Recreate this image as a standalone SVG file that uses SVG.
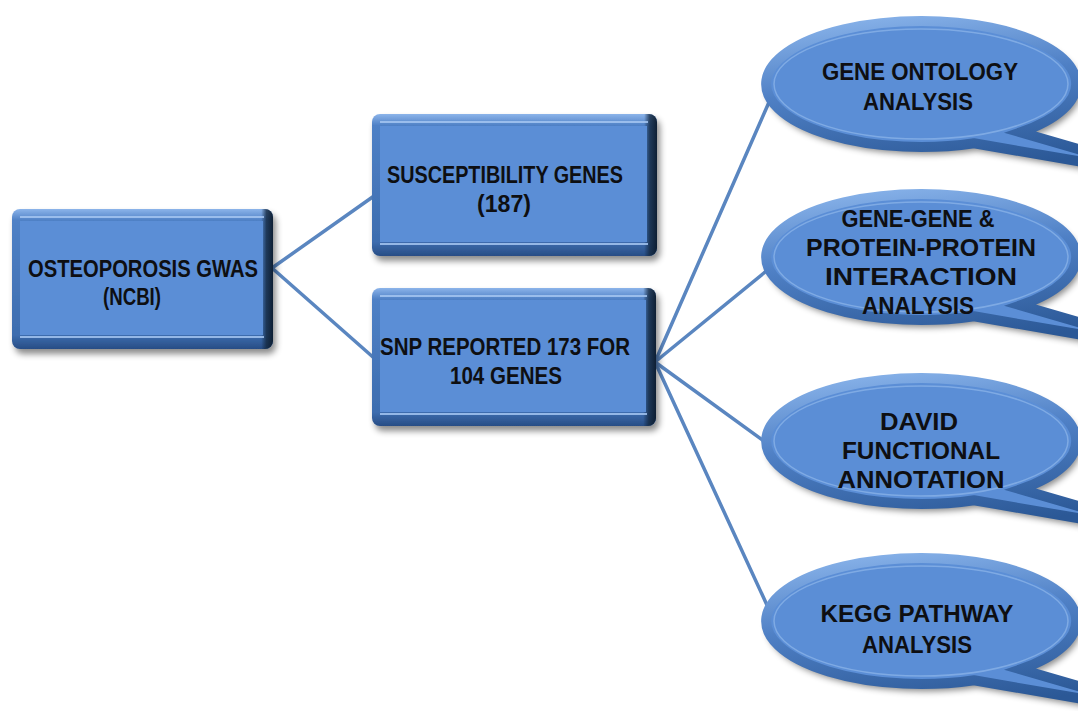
<svg xmlns="http://www.w3.org/2000/svg" xmlns:xlink="http://www.w3.org/1999/xlink" width="1078" height="711" viewBox="0 0 1078 711">
  <defs>
    <style>
      .lbl { font-family: "Liberation Sans", Arial, sans-serif; font-weight: bold; font-size: 24px; fill: #0e0f12; text-anchor: middle; }
      .conn { stroke: #5a86c0; stroke-width: 3.5; fill: none; stroke-linecap: round; }
      .face { fill: #5b8ed6; }
      .hl { stroke: #a4c6f1; stroke-width: 2; fill: none; opacity: 0.85; }
    </style>
    <filter id="shadow" x="-10%" y="-15%" width="125%" height="140%">
      <feDropShadow dx="3" dy="5" stdDeviation="3" flood-color="#000" flood-opacity="0.45"/>
    </filter>
    <linearGradient id="rimV" x1="0" y1="0" x2="0" y2="1">
      <stop offset="0" stop-color="#8cb4ea"/>
      <stop offset="0.08" stop-color="#4f81c6"/>
      <stop offset="0.9" stop-color="#3d6daf"/>
      <stop offset="1" stop-color="#284d85"/>
    </linearGradient>
    <linearGradient id="rimH" x1="0" y1="0" x2="1" y2="0">
      <stop offset="0" stop-color="#0f2238" stop-opacity="0"/>
      <stop offset="0.955" stop-color="#0f2238" stop-opacity="0"/>
      <stop offset="0.975" stop-color="#14283f" stop-opacity="0.8"/>
      <stop offset="1" stop-color="#0b1a2c" stop-opacity="0.95"/>
    </linearGradient>
    <linearGradient id="ellRim" x1="0" y1="0" x2="0.3" y2="1">
      <stop offset="0" stop-color="#8cb6ec"/>
      <stop offset="0.45" stop-color="#4f80c5"/>
      <stop offset="1" stop-color="#2b5896"/>
    </linearGradient>
    <path id="callout" d="M53,59.2 L260,95 L99.6,48.3 A155,63 0 1 0 53,59.2 Z"/>
    <g id="bubble">
      <use xlink:href="#callout" fill="#2a5790" stroke="#23497f" stroke-width="5" filter="url(#shadow)"/>
      <use xlink:href="#callout" class="face" stroke="url(#ellRim)" stroke-width="10"/>
      <ellipse cx="0" cy="0" rx="147" ry="55" fill="none" stroke="#8fb6ea" stroke-width="1.5" opacity="0.7"/>
    </g>
  </defs>

  <rect width="1078" height="711" fill="#ffffff"/>

  <g id="connectors">
    <line class="conn" x1="272" y1="268" x2="374" y2="196"/>
    <line class="conn" x1="272" y1="268" x2="374" y2="358"/>
    <line class="conn" x1="655" y1="362" x2="770" y2="100"/>
    <line class="conn" x1="655" y1="362" x2="770" y2="268"/>
    <line class="conn" x1="655" y1="362" x2="772" y2="447"/>
    <line class="conn" x1="655" y1="362" x2="772" y2="616"/>
  </g>

  <g id="node-osteoporosis">
    <rect x="12" y="209" width="261" height="140" rx="8" fill="url(#rimV)" filter="url(#shadow)"/>
    <rect x="12" y="209" width="261" height="140" rx="8" fill="url(#rimH)"/>
    <rect class="face" x="20" y="221" width="243" height="114"/>
    <line class="hl" x1="20" y1="217" x2="264" y2="217"/>
    <line class="hl" x1="20" y1="337" x2="264" y2="337"/>
    <text class="lbl" x="143" y="277" textLength="230" lengthAdjust="spacingAndGlyphs">OSTEOPOROSIS GWAS</text>
    <text class="lbl" x="132" y="305" textLength="58" lengthAdjust="spacingAndGlyphs">(NCBI)</text>
  </g>

  <g id="node-susceptibility">
    <rect x="372" y="114" width="285" height="142" rx="8" fill="url(#rimV)" filter="url(#shadow)"/>
    <rect x="372" y="114" width="285" height="142" rx="8" fill="url(#rimH)"/>
    <rect class="face" x="380" y="126" width="267" height="116"/>
    <line class="hl" x1="380" y1="122" x2="648" y2="122"/>
    <line class="hl" x1="380" y1="244" x2="648" y2="244"/>
    <text class="lbl" x="505" y="183" textLength="236" lengthAdjust="spacingAndGlyphs">SUSCEPTIBILITY GENES</text>
    <text class="lbl" x="504" y="212" textLength="54" lengthAdjust="spacingAndGlyphs">(187)</text>
  </g>

  <g id="node-snp">
    <rect x="372" y="288" width="284" height="138" rx="8" fill="url(#rimV)" filter="url(#shadow)"/>
    <rect x="372" y="288" width="284" height="138" rx="8" fill="url(#rimH)"/>
    <rect class="face" x="380" y="300" width="266" height="112"/>
    <line class="hl" x1="380" y1="296" x2="647" y2="296"/>
    <line class="hl" x1="380" y1="414" x2="647" y2="414"/>
    <text class="lbl" x="505" y="355" textLength="250" lengthAdjust="spacingAndGlyphs">SNP REPORTED 173 FOR</text>
    <text class="lbl" x="506" y="384" textLength="112" lengthAdjust="spacingAndGlyphs">104 GENES</text>
  </g>

  <g id="node-gene-ontology">
    <use xlink:href="#bubble" x="921" y="84"/>
    <text class="lbl" x="920" y="80" textLength="196" lengthAdjust="spacingAndGlyphs">GENE ONTOLOGY</text>
    <text class="lbl" x="918" y="110" textLength="110" lengthAdjust="spacingAndGlyphs">ANALYSIS</text>
  </g>

  <g id="node-interaction">
    <use xlink:href="#bubble" x="921" y="257"/>
    <text class="lbl" x="918" y="227" textLength="153" lengthAdjust="spacingAndGlyphs">GENE-GENE &amp;</text>
    <text class="lbl" x="921" y="256" textLength="230" lengthAdjust="spacingAndGlyphs">PROTEIN-PROTEIN</text>
    <text class="lbl" x="921" y="285" textLength="192" lengthAdjust="spacingAndGlyphs">INTERACTION</text>
    <text class="lbl" x="918" y="314" textLength="112" lengthAdjust="spacingAndGlyphs">ANALYSIS</text>
  </g>

  <g id="node-david">
    <use xlink:href="#bubble" x="921" y="441"/>
    <text class="lbl" x="919" y="430" textLength="78" lengthAdjust="spacingAndGlyphs">DAVID</text>
    <text class="lbl" x="921" y="459" textLength="158" lengthAdjust="spacingAndGlyphs">FUNCTIONAL</text>
    <text class="lbl" x="921" y="488" textLength="167" lengthAdjust="spacingAndGlyphs">ANNOTATION</text>
  </g>

  <g id="node-kegg">
    <use xlink:href="#bubble" x="921" y="621"/>
    <text class="lbl" x="917" y="622" textLength="193" lengthAdjust="spacingAndGlyphs">KEGG PATHWAY</text>
    <text class="lbl" x="917" y="653" textLength="110" lengthAdjust="spacingAndGlyphs">ANALYSIS</text>
  </g>
</svg>
